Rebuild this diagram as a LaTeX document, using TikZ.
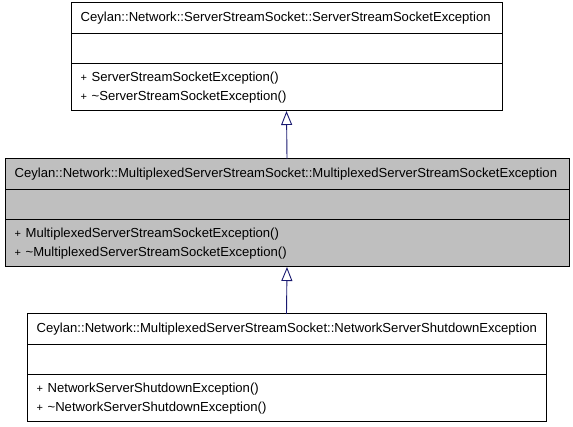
\documentclass[tikz,border=0pt]{standalone}
\usepackage{fontspec}
\setmainfont{Liberation Sans}
\usetikzlibrary{arrows.meta}
\definecolor{edgeblue}{RGB}{25,25,112}
\definecolor{focusgray}{RGB}{191,191,191}
\newcommand{\pub}{{\fontsize{11}{13}\selectfont +}\hspace{4.5pt}}
\begin{document}
\begin{tikzpicture}[x=1pt, y=-1pt,
    cls/.style = {draw, line width=1pt, inner sep=0pt, outer sep=0pt, minimum height=108pt},
    txt/.style = {anchor=west, inner sep=0pt, font=\fontsize{13.1}{15}\selectfont},
    sep/.style = {line width=1.3pt},
    inherit/.style = {draw=edgeblue, line width=0.9pt, -{Triangle[open, length=14pt, width=11pt]}}]
    \useasboundingbox (0,0) rectangle (573,427);

    \node[cls, minimum width=431pt] (base) at (286.5, 57) {};
    \draw[sep] ([yshift=-30.5pt]base.north west) -- ([yshift=-30.5pt]base.north east);
    \draw[sep] ([yshift=-60.5pt]base.north west) -- ([yshift=-60.5pt]base.north east);
    \node[txt] (base-name) at ([xshift=9.5pt,yshift=-15.5pt]base.north west) {Ceylan::Network::ServerStreamSocket::ServerStreamSocketException};
    \node[txt] (base-op1) at ([xshift=9.5pt,yshift=-75pt]base.north west) {\pub ServerStreamSocketException()};
    \node[txt] (base-op2) at ([xshift=9.5pt,yshift=-94pt]base.north west) {\pub\textasciitilde ServerStreamSocketException()};


    \node[cls, fill=focusgray, minimum width=564pt] (mux) at (287, 213) {};
    \draw[sep] ([yshift=-30.5pt]mux.north west) -- ([yshift=-30.5pt]mux.north east);
    \draw[sep] ([yshift=-60.5pt]mux.north west) -- ([yshift=-60.5pt]mux.north east);
    \node[txt] (mux-name) at ([xshift=9.5pt,yshift=-15.5pt]mux.north west) {Ceylan::Network::MultiplexedServerStreamSocket::MultiplexedServerStreamSocketException};
    \node[txt] (mux-op1) at ([xshift=9.5pt,yshift=-75pt]mux.north west) {\pub MultiplexedServerStreamSocketException()};
    \node[txt] (mux-op2) at ([xshift=9.5pt,yshift=-94pt]mux.north west) {\pub\textasciitilde MultiplexedServerStreamSocketException()};


    \node[cls, minimum width=519pt] (shutdown) at (286.5, 368) {};
    \draw[sep] ([yshift=-30.5pt]shutdown.north west) -- ([yshift=-30.5pt]shutdown.north east);
    \draw[sep] ([yshift=-60.5pt]shutdown.north west) -- ([yshift=-60.5pt]shutdown.north east);
    \node[txt] (shutdown-name) at ([xshift=9.5pt,yshift=-15.5pt]shutdown.north west) {Ceylan::Network::MultiplexedServerStreamSocket::NetworkServerShutdownException};
    \node[txt] (shutdown-op1) at ([xshift=9.5pt,yshift=-75pt]shutdown.north west) {\pub NetworkServerShutdownException()};
    \node[txt] (shutdown-op2) at ([xshift=9.5pt,yshift=-94pt]shutdown.north west) {\pub\textasciitilde NetworkServerShutdownException()};

    \draw [inherit] (mux.north) -- (base.south);
    \draw [inherit] (shutdown.north) -- (mux.south);

\end{tikzpicture}
\end{document}
